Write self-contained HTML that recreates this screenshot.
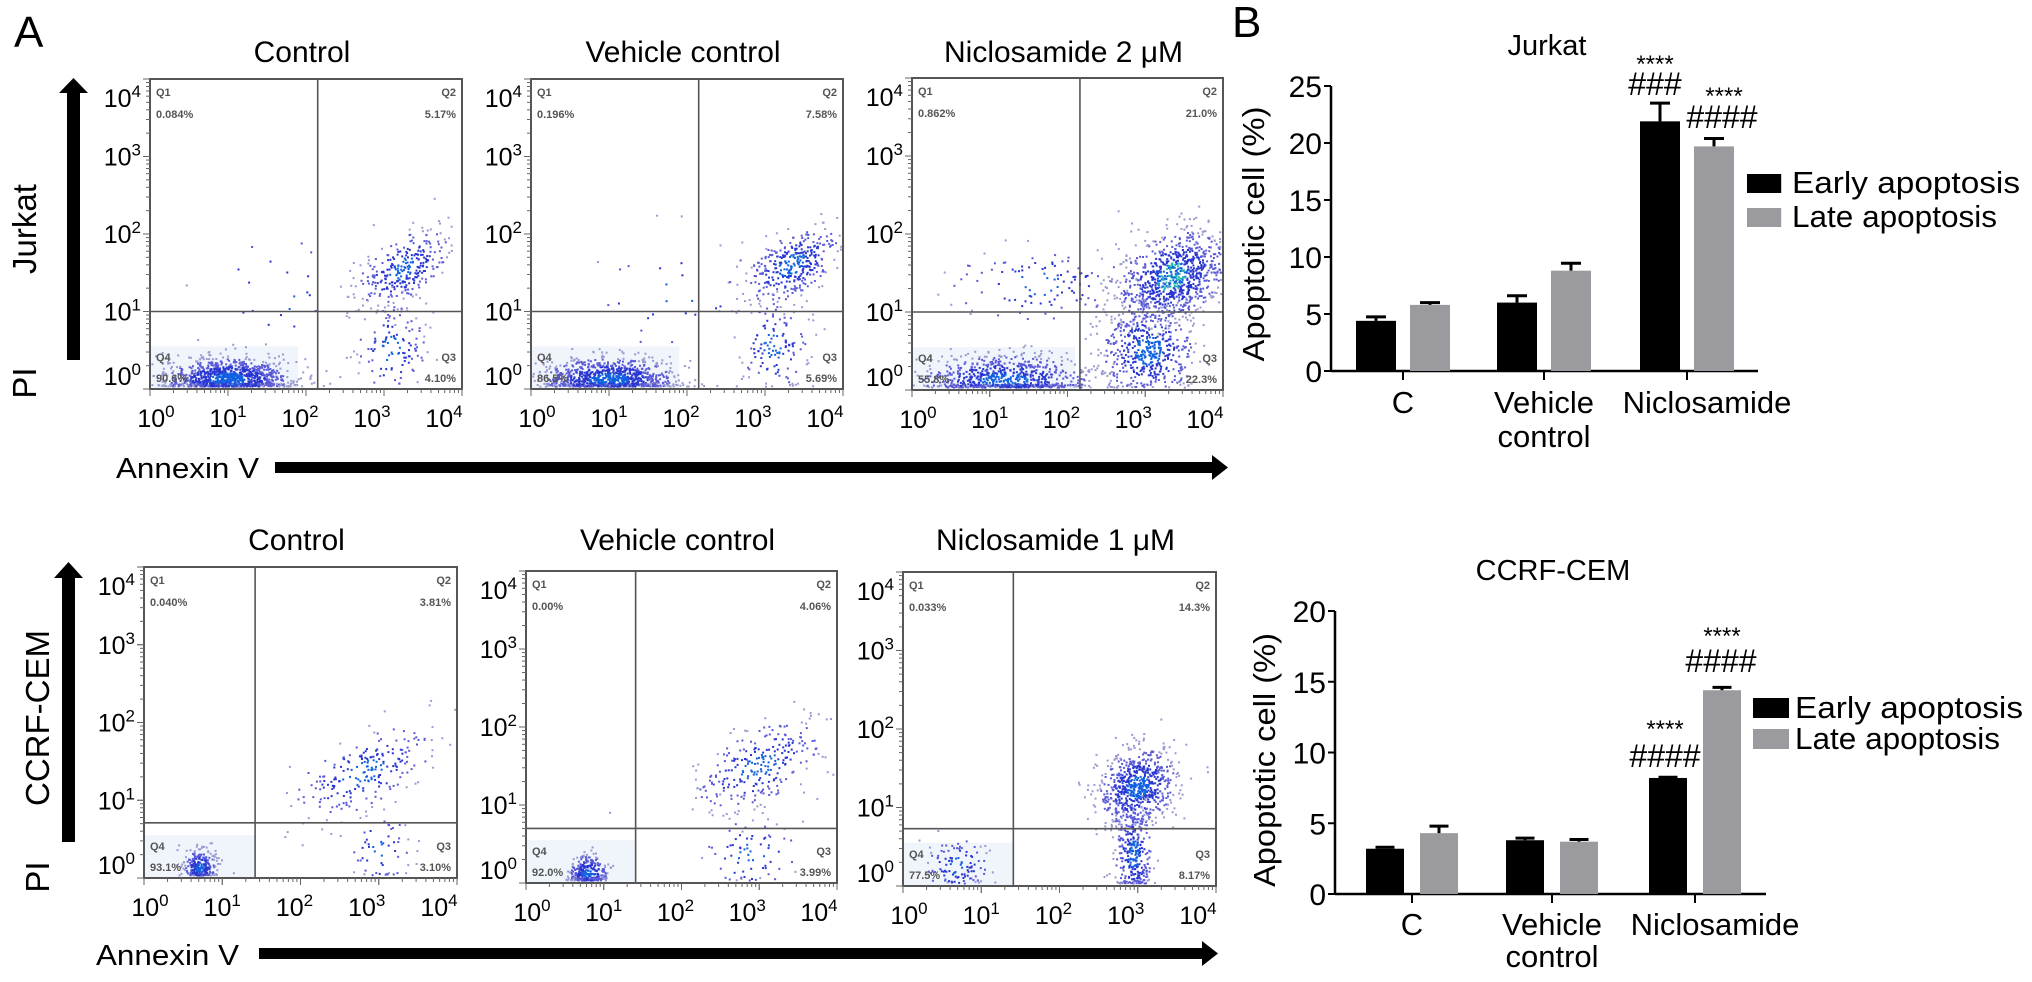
<!DOCTYPE html>
<html><head><meta charset="utf-8">
<style>
html,body{margin:0;padding:0;background:#fff;}
svg{display:block;font-family:"Liberation Sans",Arial,sans-serif;}
</style></head>
<body>
<svg id="fig" width="2032" height="982" viewBox="0 0 2032 982" xmlns="http://www.w3.org/2000/svg">
  <rect width="2032" height="982" fill="#fff"/>
  <text x="14" y="47" font-size="44">A</text>
  <text x="1232" y="37" font-size="44">B</text>

  <g>
    <rect x="67" y="90" width="13" height="270" fill="#000"/>
    <polygon points="59,93 73.5,78 88,93" fill="#000"/>
  </g>
  <text transform="translate(36,229) rotate(-90)" text-anchor="middle" font-size="33">Jurkat</text>
  <text transform="translate(36,383) rotate(-90)" text-anchor="middle" font-size="33">PI</text>

  <g>
    <rect x="62" y="575" width="13" height="267" fill="#000"/>
    <polygon points="54,578 68.5,562 83,578" fill="#000"/>
  </g>
  <text transform="translate(49,718) rotate(-90)" text-anchor="middle" font-size="33">CCRF-CEM</text>
  <text transform="translate(49,877) rotate(-90)" text-anchor="middle" font-size="33">PI</text>

  <text x="116" y="478" font-size="29" textLength="143" lengthAdjust="spacingAndGlyphs">Annexin V</text>
  <g>
    <rect x="275" y="462" width="940" height="11" fill="#000"/>
    <polygon points="1212,455 1228,467.5 1212,480" fill="#000"/>
  </g>
  <text x="96" y="965" font-size="29" textLength="143" lengthAdjust="spacingAndGlyphs">Annexin V</text>
  <g>
    <rect x="259" y="948" width="946" height="11" fill="#000"/>
    <polygon points="1202,941 1218,953.5 1202,966" fill="#000"/>
  </g>

  <g id="flows"></g>
  <g id="bars"></g>
</svg>
<script>
// ---------- Flow cytometry data ----------
const flowTitles = ["Control","Vehicle control","Niclosamide 2 \u03bcM","Control","Vehicle control","Niclosamide 1 \u03bcM"];
const q1Pct = ["0.084%","0.196%","0.862%","0.040%","0.00%","0.033%"];
const q2Pct = ["5.17%","7.58%","21.0%","3.81%","4.06%","14.3%"];
const q3Pct = ["4.10%","5.69%","22.3%","3.10%","3.99%","8.17%"];
const q4Pct = ["90.6%","86.5%","55.8%","93.1%","92.0%","77.5%"];
const gateX = [2.15,2.15,2.16,1.42,1.41,1.41];
const gateY = [1.0,1.0,1.0,0.71,0.70,0.73];
// clusters per plot: [cx, cy, sx, sy, rho, n] in log10 units
const clusters = [
  [[1.0,0.12,0.4,0.14,0,1100],[3.25,1.55,0.3,0.25,0.5,300],[3.1,0.5,0.22,0.3,0,120],[1.6,1.2,0.6,0.4,0,20]],
  [[1.0,0.12,0.42,0.14,0,1000],[3.35,1.6,0.3,0.25,0.5,350],[3.1,0.55,0.22,0.3,0,130],[1.8,1.2,0.6,0.4,0,30]],
  [[1.2,0.12,0.55,0.16,0,800],[3.35,1.45,0.35,0.3,0.3,900],[3.05,0.5,0.3,0.3,0,500],[1.6,1.35,0.6,0.25,0,110]],
  [[0.72,0.12,0.1,0.12,0,300],[2.8,1.35,0.45,0.3,0.55,220],[3.0,0.35,0.2,0.25,0,55]],
  [[0.8,0.12,0.12,0.12,0,300],[3.0,1.5,0.4,0.3,0.55,270],[2.9,0.35,0.3,0.25,0,70]],
  [[0.7,0.25,0.2,0.18,0,110],[3.0,1.25,0.25,0.25,0.2,700],[2.95,0.4,0.12,0.3,0,300]]
];
const decadeLabels = ["0","1","2","3","4"];

// ---------- Bar chart data ----------
const barCategories = ["C","Vehicle control","Niclosamide"];
const jurkatEarly = [4.4,6.0,21.9];
const jurkatEarlyErr = [0.35,0.6,1.6];
const jurkatLate = [5.8,8.8,19.7];
const jurkatLateErr = [0.2,0.65,0.7];
const jurkatTicks = [0,5,10,15,20,25];
const ccrfEarly = [3.2,3.8,8.2];
const ccrfEarlyErr = [0.1,0.15,0.05];
const ccrfLate = [4.3,3.7,14.4];
const ccrfLateErr = [0.5,0.15,0.2];
const ccrfTicks = [0,5,10,15,20];

const NS = "http://www.w3.org/2000/svg";
function mk(tag, attrs, parent, txt){
  const e = document.createElementNS(NS, tag);
  for (const k in attrs) e.setAttribute(k, attrs[k]);
  if (txt !== undefined) e.textContent = txt;
  parent.appendChild(e);
  return e;
}
let seed = 12345;
function rnd(){ seed = (seed*1103515245 + 12345) % 2147483648; return seed/2147483648; }
function gauss(){ let u = rnd()||1e-6, v = rnd(); return Math.sqrt(-2*Math.log(u))*Math.cos(2*Math.PI*v); }

const boxes = [[150,79,462,389],[531,79,843,389],[912,78,1223,390],[144,567,457,878],[526,571,837,883],[903,572,1216,886]];
const flows = document.getElementById('flows');

for (let p=0;p<6;p++){
  const [L,T,R,B] = boxes[p];
  const W=R-L, H=B-T;
  const sx = v => L + v*W/4;
  const sy = v => B - v*H/4;
  const g = mk('g',{},flows);
  
  
  const title = mk('text',{x:(L+R)/2-4,y:p<3?62:550,'text-anchor':'middle','font-size':30},g,flowTitles[p]);
  
  
  const c0 = clusters[p][0];
  const hx = sx(Math.max(0.3,c0[0]-0.6));
  const haze = mk('rect',{x:L+1,y:sy(0.55),width:sx(Math.min(gateX[p],c0[0]+0.9))-L-1,height:B-sy(0.55),fill:'#e6ecf8',opacity:0.6},g);
  
  
  const dots = mk('g',{},g);
  
  
  clusters[p].forEach((c,ci)=>{
    const [cx,cy,sgx,sgy,rho,n]=c;
    for(let i=0;i<n;i++){
      const a=gauss(), b=gauss();
      let x=cx+a*sgx, y=cy+(rho*a+Math.sqrt(1-rho*rho)*b)*sgy;
      if(x>3.98||y>3.98) continue;
      if(y<0.03) y=0.03+rnd()*0.04;
      if(x<0.02) continue;
      const d=Math.sqrt(a*a+b*b);
      let col;
      if(d<0.6) col = (p===2&&ci===1&&rnd()<0.5)?'#1fb8b0':'#1060e0';
      else if(d<1.2) col='#2a36d0';
      else if(d<1.9) col='#5a5ad8';
      else col='#9a9ad0';
      mk('rect',{x:(sx(x)-1).toFixed(1),y:(sy(y)-1).toFixed(1),width:2,height:2,fill:col},dots);
    }
  });
  const box = mk('rect',{x:L,y:T,width:W,height:H,fill:'none',stroke:'#555','stroke-width':2},g);
  
  
  const gv = mk('line',{x1:sx(gateX[p]),x2:sx(gateX[p]),y1:T,y2:B,stroke:'#555','stroke-width':1.6},g);
  
  
  const gh = mk('line',{x1:L,x2:R,y1:sy(gateY[p]),y2:sy(gateY[p]),stroke:'#555','stroke-width':1.6},g);
  
  
  for(let d=0;d<4;d++){ for(let k=1;k<=10;k++){
    const v=d+Math.log10(k); const len=(k===1||k===10)?7:4;
    mk('line',{x1:L,x2:L-len,y1:sy(v),y2:sy(v),stroke:'#666','stroke-width':1},g);
    mk('line',{x1:sx(v),x2:sx(v),y1:B,y2:B+len,stroke:'#666','stroke-width':1},g);
  }}
  const qs=[['Q1',L+6,T+17,'start'],[q1Pct[p],L+6,T+39,'start'],['Q2',R-6,T+17,'end'],[q2Pct[p],R-6,T+39,'end'],
            ['Q4',L+6,B-28,'start'],[q4Pct[p],L+6,B-7,'start'],['Q3',R-6,B-28,'end'],[q3Pct[p],R-6,B-7,'end']];
  qs.forEach(q=>{
    const t=mk('text',{x:q[1],y:q[2],'text-anchor':q[3],'font-size':11,fill:'#555','font-weight':'bold'},g,q[0]);
    
    
  });
  decadeLabels.forEach((lab,i)=>{
    const off = i===0?-4:(i===4?28:9);
    const t=mk('text',{x:L-9,y:sy(i)+off,'text-anchor':'end','font-size':25},g);
    
    
    mk('tspan',{},t,'10');
    mk('tspan',{dy:-10,'font-size':17},t,lab);
  });
  decadeLabels.forEach((lab,i)=>{
    const cxp = L+10+i*(W-24)/4;
    const t=mk('text',{x:cxp-4,y:B+38,'text-anchor':'middle','font-size':25},g);
    
    
    mk('tspan',{},t,'10');
    mk('tspan',{dy:-10,'font-size':17},t,lab);
  });
}

// ---------- Bar charts ----------
const barsG = document.getElementById('bars');
function barChart(cfg){
  const {name,axisX,axisEnd,y0,pxPerUnit,groups,off,bw,ticks,early,earlyErr,late,lateErr,title,titleX,titleY,ytX,ytY,ytLen,lblY1,lblY2,leg,stars} = cfg;
  const g = mk('g',{},barsG);
  
  
  const y = v => y0 - v*pxPerUnit;
  const t=mk('text',{x:titleX,y:titleY,'text-anchor':'middle','font-size':29},g,title);
  
  
  const yt=mk('text',{transform:`translate(${ytX},${ytY}) rotate(-90)`,'text-anchor':'middle','font-size':31,textLength:ytLen,lengthAdjust:'spacingAndGlyphs'},g,'Apoptotic cell (%)');
  
  
  const ya=mk('line',{x1:axisX,x2:axisX,y1:y(ticks[ticks.length-1]),y2:y0+1,stroke:'#000','stroke-width':2.5},g);
  
  
  const xa=mk('line',{x1:axisX,x2:axisEnd,y1:y0,y2:y0,stroke:'#000','stroke-width':2.5},g);
  
  
  ticks.forEach(v=>{
    mk('line',{x1:axisX-7,x2:axisX,y1:y(v),y2:y(v),stroke:'#000','stroke-width':2},g);
    const tl=mk('text',{x:axisX-9,y:y(v)+11,'text-anchor':'end','font-size':30},g,String(v));
    
    
  });
  barCategories.forEach((c,i)=>{
    const gx=groups[i];
    mk('line',{x1:gx,x2:gx,y1:y0,y2:y0+9,stroke:'#000','stroke-width':2},g);
    const parts = c==='Vehicle control'?['Vehicle','control']:[c];
    const dx = c==='Niclosamide'?20:0;
    parts.forEach((pt,j)=>{
      const tl=mk('text',{x:gx+dx,y:j===0?lblY1:lblY2,'text-anchor':'middle','font-size':31},g,pt);
      
      
    });
    [[early,earlyErr,-off,'#000','early'],[late,lateErr,off,'#9b9b9f','late']].forEach(s=>{
      const v=s[0][i], e=s[1][i], cx=gx+s[2];
      const r=mk('rect',{x:cx-bw/2,y:y(v),width:bw,height:y0-y(v),fill:s[3]},g);
      
      
      const eb=mk('path',{d:`M${cx},${y(v)} V${y(v+e)} M${cx-bw/4},${y(v+e)} H${cx+bw/4}`,stroke:'#000','stroke-width':3,fill:'none'},g);
      
      
    });
  });
  [['Early apoptosis','#000',0],['Late apoptosis','#9b9b9f',1]].forEach(l=>{
    const sq=mk('rect',{x:leg.x,y:leg.y+l[2]*leg.dy-leg.s,width:leg.s*1.8,height:leg.s,fill:l[1]},g);
    
    
    const lt=mk('text',{x:leg.tx,y:leg.y+l[2]*leg.dy,'font-size':31,textLength:l[2]?205:228,lengthAdjust:'spacingAndGlyphs'},g,l[0]);
    
    
  });
  stars.forEach(s=>{
    const st=mk('text',{x:s[0],y:s[1],'text-anchor':'middle','font-size':s[3]},g,s[2]);
    
    
  });
}
barChart({name:'bar-chart-jurkat',axisX:1331,axisEnd:1758,y0:371,pxPerUnit:11.4,groups:[1403,1544,1687],off:27,bw:40,ticks:jurkatTicks,
  early:jurkatEarly,earlyErr:jurkatEarlyErr,late:jurkatLate,lateErr:jurkatLateErr,title:'Jurkat',titleX:1547,titleY:55,
  ytX:1264,ytY:234,ytLen:255,lblY1:413,lblY2:447,leg:{x:1747,y:193,dy:34,s:19,tx:1792},
  stars:[[1655,72,'****',24],[1655,95,'###',32],[1724,104,'****',24],[1722,128,'####',32]]});
barChart({name:'bar-chart-ccrf-cem',axisX:1335,axisEnd:1766,y0:894,pxPerUnit:14.15,groups:[1412,1552,1695],off:27,bw:38,ticks:ccrfTicks,
  early:ccrfEarly,earlyErr:ccrfEarlyErr,late:ccrfLate,lateErr:ccrfLateErr,title:'CCRF-CEM',titleX:1553,titleY:580,
  ytX:1275,ytY:760,ytLen:254,lblY1:935,lblY2:967,leg:{x:1753,y:718,dy:31,s:20,tx:1795},
  stars:[[1665,737,'****',24],[1665,767,'####',32],[1722,644,'****',24],[1721,672,'####',32]]});
</script>
</body></html>
